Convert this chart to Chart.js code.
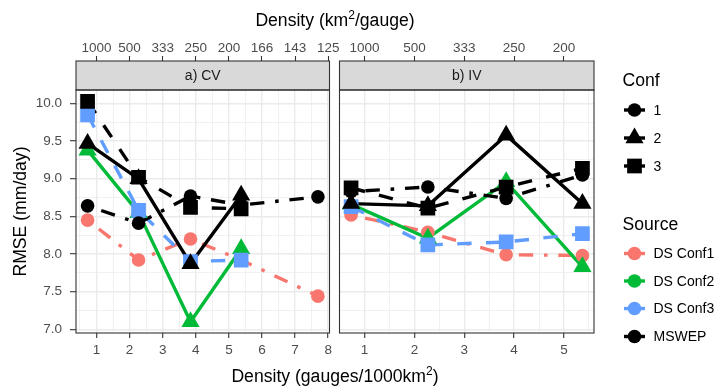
<!DOCTYPE html>
<html>
<head>
<meta charset="utf-8">
<script src="https://cdn.jsdelivr.net/npm/chart.js@4.4.0/dist/chart.umd.min.js"></script>
<style>
body { margin: 0; background: #fff; }
#wrap { position: relative; width: 718px; height: 389px; overflow: hidden; background: #fff;
        font-family: "Liberation Sans", Arial, sans-serif; }
#wrap canvas { position: absolute; top: 0; }
.ttl { position: absolute; left: 0; width: 670px; text-align: center; font-size: 17.6px;
       line-height: 17.6px; color: #000; white-space: nowrap; }
.ttl sup { font-size: 12px; line-height: 0; vertical-align: 7px; }
</style>
</head>
<body>
<div id="wrap">
  <canvas id="cvChart" width="340" height="389" style="left:0"></canvas>
  <canvas id="ivChart" width="389" height="389" style="left:329px"></canvas>
  <div class="ttl" style="top:12px">Density (km<sup>2</sup>/gauge)</div>
  <div class="ttl" style="top:368px">Density (gauges/1000km<sup>2</sup>)</div>
</div>
<script>
// gauge density of each network (gauges / 1000 km2)
const densityCV = [0.73, 2.27, 3.84, 5.37, 7.69];
const densityIV = [0.73, 2.27, 3.84, 5.37];

const sources = ['DS Conf1', 'DS Conf2', 'DS Conf3', 'MSWEP'];
const sourceColors = ['#F8766D', '#00BA38', '#619CFF', '#000000'];
const confs = ['1', '2', '3'];

const bottomTicksCV = [1, 2, 3, 4, 5, 6, 7, 8];
const topLabelsCV = ['1000', '500', '333', '250', '200', '166', '143', '125'];
const bottomTicksIV = [1, 2, 3, 4, 5];
const topLabelsIV = ['1000', '500', '333', '250', '200'];
const yTicks = [7.0, 7.5, 8.0, 8.5, 9.0, 9.5, 10.0];

// a) CV  (RMSE, mm/day)
const cvDS1 = [8.45, 7.92, 8.20, 7.92, 7.44];
const cvDS2 = [9.38, 8.55, 7.10, 8.07, null];
const cvDS3 = [9.85, 8.58, 7.90, 7.92, null];
const cvMS1 = [8.64, 8.41, 8.77, 8.65, 8.76];
const cvMS2 = [9.47, 9.00, 7.87, 8.78, null];
const cvMS3 = [10.03, 9.02, 8.62, 8.60, null];

// b) IV
const ivDS1 = [8.52, 8.29, 7.99, 7.98];
const ivDS2 = [8.66, 8.21, 8.96, 7.83];
const ivDS3 = [8.63, 8.12, 8.16, 8.27];
const ivMS1 = [8.83, 8.89, 8.74, 9.05];
const ivMS2 = [8.67, 8.64, 9.58, 8.67];
const ivMS3 = [8.88, 8.61, 8.89, 9.14];

const FONT = '"Liberation Sans", Arial, sans-serif';
const confShape = ['circle', 'triangle', 'rect'];
const confRadius = [6.8, 10.5, 10.4];
const confDash = [[3.6, 10.8, 14.4, 10.8], [], [14.4, 14.4]];
const LW = 3.4;

function buildDatasets(xs, series) {
  const lines = [], points = [];
  series.forEach(s => {
    const pts = [];
    xs.forEach((x, i) => { if (s.vals[i] !== null) pts.push({x: x, y: s.vals[i]}); });
    const col = sourceColors[s.src];
    lines.push({
      data: pts, showLine: true, borderColor: col, borderWidth: LW,
      borderDash: confDash[s.conf], borderJoinStyle: 'round', pointRadius: 0, pointHoverRadius: 0
    });
    points.push({
      data: pts, showLine: false, pointStyle: confShape[s.conf], pointRadius: confRadius[s.conf],
      pointHoverRadius: confRadius[s.conf], pointBackgroundColor: col, pointBorderWidth: 0,
      borderColor: col
    });
  });
  // chart.js draws dataset 0 last, so reverse: lines at the bottom, MSWEP points on top
  return lines.concat(points).reverse();
}

const seriesCV = [
  {src: 0, conf: 0, vals: cvDS1}, {src: 1, conf: 1, vals: cvDS2}, {src: 2, conf: 2, vals: cvDS3},
  {src: 3, conf: 0, vals: cvMS1}, {src: 3, conf: 1, vals: cvMS2}, {src: 3, conf: 2, vals: cvMS3}
];
const seriesIV = [
  {src: 0, conf: 0, vals: ivDS1}, {src: 1, conf: 1, vals: ivDS2}, {src: 2, conf: 2, vals: ivDS3},
  {src: 3, conf: 0, vals: ivMS1}, {src: 3, conf: 1, vals: ivMS2}, {src: 3, conf: 2, vals: ivMS3}
];

function halfSteps(lo, hi, step) {
  const out = [];
  for (let v = Math.ceil(lo / step) * step; v <= hi + 1e-9; v += step) out.push(Math.round(v * 100) / 100);
  return out;
}
const isMajor = (v, m) => Math.abs(v / m - Math.round(v / m)) < 1e-6;

const stripPlugin = {
  id: 'strip',
  afterDraw(chart, args, opts) {
    const {ctx, chartArea: a} = chart;
    ctx.save();
    ctx.fillStyle = '#D9D9D9';
    ctx.fillRect(a.left, 61, a.right - a.left, a.top - 61);
    ctx.strokeStyle = '#333333';
    ctx.lineWidth = 1.1;
    ctx.strokeRect(a.left, 61, a.right - a.left, a.top - 61);
    ctx.strokeRect(a.left, a.top, a.right - a.left, a.bottom - a.top);
    ctx.fillStyle = '#1A1A1A';
    ctx.font = '14px ' + FONT;
    ctx.textAlign = 'center';
    ctx.textBaseline = 'middle';
    ctx.fillText(opts.label, (a.left + a.right) / 2, 76.5);
    ctx.restore();
  }
};

function marker(ctx, shape, r, x, y) {
  ctx.beginPath();
  if (shape === 'circle') {
    ctx.arc(x, y, r, 0, Math.PI * 2);
  } else if (shape === 'triangle') {
    for (let k = 0; k < 3; k++) {
      const ang = k * 2 * Math.PI / 3;
      const px = x + Math.sin(ang) * r, py = y - Math.cos(ang) * r;
      if (k === 0) ctx.moveTo(px, py); else ctx.lineTo(px, py);
    }
    ctx.closePath();
  } else {
    const h = r * Math.SQRT1_2;
    ctx.rect(x - h, y - h, 2 * h, 2 * h);
  }
  ctx.fill();
}

const legendPlugin = {
  id: 'legendBox',
  afterDraw(chart) {
    const ctx = chart.ctx;
    const off = 329;
    const keyL = 624 - off, keyR = 645 - off, keyC = 634.5 - off, txtX = 653.5 - off;
    ctx.save();
    ctx.fillStyle = '#000';
    ctx.textAlign = 'left';
    ctx.textBaseline = 'middle';
    ctx.font = '17.6px ' + FONT;
    ctx.fillText('Conf', 622.5 - off, 81);
    ctx.fillText('Source', 622.5 - off, 225);
    const confY = [110, 138, 166];
    confs.forEach((c, i) => {
      ctx.strokeStyle = '#000'; ctx.lineWidth = LW;
      ctx.beginPath(); ctx.moveTo(keyL, confY[i]); ctx.lineTo(keyR, confY[i]); ctx.stroke();
      ctx.fillStyle = '#000';
      marker(ctx, confShape[i], confRadius[i], keyC, confY[i]);
      ctx.font = '14px ' + FONT;
      ctx.fillText(c, txtX, confY[i] + 1);
    });
    const srcY = [253.5, 281, 308.5, 336.5];
    sources.forEach((s, i) => {
      ctx.strokeStyle = sourceColors[i]; ctx.lineWidth = LW;
      ctx.beginPath(); ctx.moveTo(keyL, srcY[i]); ctx.lineTo(keyR, srcY[i]); ctx.stroke();
      ctx.fillStyle = sourceColors[i];
      marker(ctx, 'circle', confRadius[0], keyC, srcY[i]);
      ctx.fillStyle = '#000';
      ctx.font = '14px ' + FONT;
      ctx.fillText(s, txtX, srcY[i] + 1);
    });
    ctx.restore();
  }
};

function panelOptions(xMin, xMax, bottomTicks, topLabels, label, showY, padRight) {
  const xGrid = halfSteps(xMin, xMax, 0.5);
  const yGrid = halfSteps(6.95, 10.18, 0.25);
  const tickFont = {family: FONT, size: 13.5};
  return {
    responsive: false,
    animation: false,
    events: [],
    layout: {padding: {left: 0, right: padRight, top: 0, bottom: 0}},
    plugins: {legend: {display: false}, tooltip: {enabled: false}, strip: {label: label}},
    scales: {
      x: {
        type: 'linear', position: 'bottom', min: xMin, max: xMax,
        afterBuildTicks: s => { s.ticks = xGrid.map(v => ({value: v})); },
        afterFit: s => { s.height = 56; },
        border: {display: false},
        grid: {
          color: '#EBEBEB',
          lineWidth: c => isMajor(c.tick.value, 1) ? 1.4 : 0.7,
          tickColor: c => isMajor(c.tick.value, 1) ? '#333333' : 'rgba(0,0,0,0)',
          tickWidth: 1.1, tickLength: 5
        },
        ticks: {
          autoSkip: false, maxRotation: 0, padding: 4, color: '#4D4D4D', font: tickFont,
          callback: v => bottomTicks.includes(v) ? String(v) : ''
        }
      },
      xTop: {
        type: 'linear', position: 'top', min: xMin, max: xMax,
        afterBuildTicks: s => { s.ticks = bottomTicks.map(v => ({value: v})); },
        afterFit: s => { s.height = 90; },
        border: {display: false},
        grid: {drawOnChartArea: false, tickColor: '#333333', tickWidth: 1.1, tickLength: 34},
        ticks: {
          autoSkip: false, maxRotation: 0, padding: 0, color: '#4D4D4D', font: tickFont,
          callback: v => topLabels[bottomTicks.indexOf(v)]
        }
      },
      y: {
        type: 'linear', min: 6.95, max: 10.18,
        afterBuildTicks: s => { s.ticks = yGrid.map(v => ({value: v})); },
        afterFit: s => { s.width = showY ? 76 : 10; },
        border: {display: false},
        grid: {
          color: '#EBEBEB',
          lineWidth: c => isMajor(c.tick.value, 0.5) ? 1.4 : 0.7,
          drawTicks: showY,
          tickColor: c => isMajor(c.tick.value, 0.5) ? '#333333' : 'rgba(0,0,0,0)',
          tickWidth: 1.1, tickLength: 6
        },
        title: {
          display: showY, text: 'RMSE (mm/day)', color: '#000',
          font: {family: FONT, size: 17.6}, padding: {top: 11, bottom: 0}
        },
        ticks: {
          display: showY, autoSkip: false, padding: 8, color: '#4D4D4D', font: tickFont,
          callback: v => yTicks.includes(v) ? v.toFixed(1) : ''
        }
      }
    }
  };
}

new Chart(document.getElementById('cvChart'), {
  type: 'scatter',
  data: {datasets: buildDatasets(densityCV, seriesCV)},
  options: panelOptions(0.38, 8.04, bottomTicksCV, topLabelsCV, 'a) CV', true, 10),
  plugins: [stripPlugin]
});

new Chart(document.getElementById('ivChart'), {
  type: 'scatter',
  data: {datasets: buildDatasets(densityIV, seriesIV)},
  options: panelOptions(0.498, 5.602, bottomTicksIV, topLabelsIV, 'b) IV', false, 124),
  plugins: [stripPlugin, legendPlugin]
});
</script>
</body>
</html>
